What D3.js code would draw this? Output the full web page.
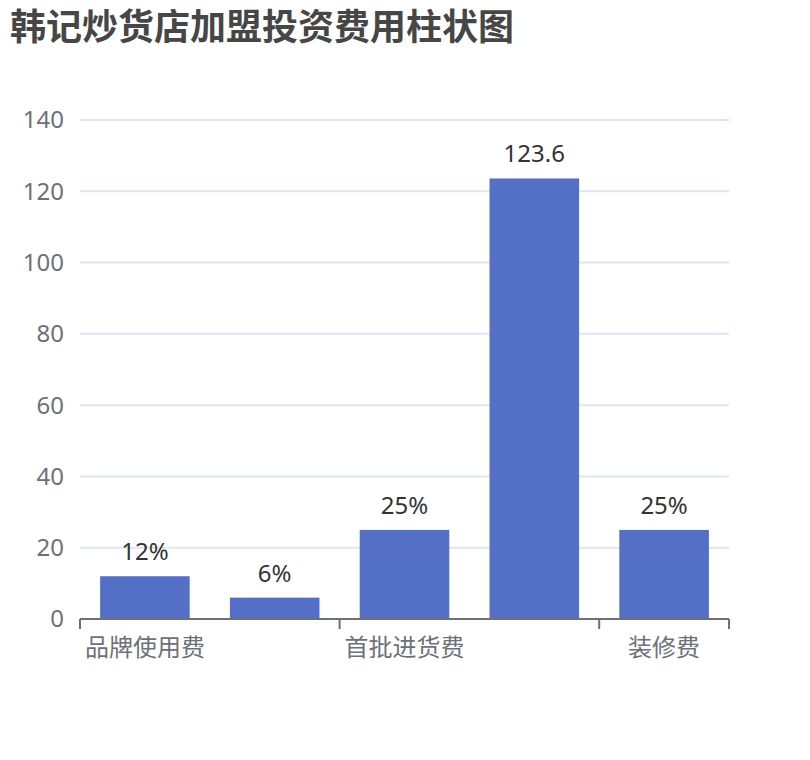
<!DOCTYPE html>
<html><head><meta charset="utf-8">
<script src="https://cdn.jsdelivr.net/npm/d3@7"></script>
<style>body{margin:0;background:#fff}svg{display:block;font-family:"Noto Sans","Noto Sans CJK SC",sans-serif}</style>
</head><body>
<script>
const title = "韩记炒货店加盟投资费用柱状图";
const categories = ["品牌使用费", "加盟保证金", "首批进货费", "店面租金", "装修费"];
const values = [12, 6, 25, 123.6, 25];
const valueLabels = ["12%", "6%", "25%", "123.6", "25%"];
const yTicks = [0, 20, 40, 60, 80, 100, 120, 140];
const labelInterval = 2;

const W = 810, H = 760;
const m = {left: 80, right: 81, top: 120, bottom: 141};
const svg = d3.select("body").append("svg").attr("width", W).attr("height", H);

svg.append("text").attr("x", 10).attr("y", 40)
  .attr("font-size", 36).attr("font-weight", "bold").attr("fill", "#464646")
  .attr("font-family", "'Noto Sans CJK SC', sans-serif")
  .text(title);

const x = d3.scaleBand().domain(categories).range([m.left, W - m.right]).paddingInner(0).paddingOuter(0);
const y = d3.scaleLinear().domain([0, 140]).range([H - m.bottom, m.top]);

// grid
svg.append("g").selectAll("line").data(yTicks.filter(d => d > 0)).join("line")
  .attr("x1", m.left).attr("x2", W - m.right)
  .attr("y1", d => y(d)).attr("y2", d => y(d))
  .attr("stroke", "#E0E6F1").attr("stroke-width", 2);

// y labels
svg.append("g").selectAll("text").data(yTicks).join("text")
  .attr("x", m.left - 16).attr("y", d => y(d)).attr("dy", "0.35em")
  .attr("text-anchor", "end").attr("font-size", 24).attr("fill", "#6E7079")
  .text(d => d);

// bars
const bw = x.bandwidth() * 0.69;
svg.append("g").selectAll("rect").data(values).join("rect")
  .attr("x", (d, i) => x(categories[i]) + (x.bandwidth() - bw) / 2)
  .attr("width", bw)
  .attr("y", d => y(d)).attr("height", d => y(0) - y(d))
  .attr("fill", "#5470C6");

// value labels
svg.append("g").selectAll("text").data(values).join("text")
  .attr("x", (d, i) => x(categories[i]) + x.bandwidth() / 2)
  .attr("y", d => y(d) - 16)
  .attr("text-anchor", "middle").attr("font-size", 24).attr("fill", "#333")
  .text((d, i) => valueLabels[i]);

// x axis
const y0 = y(0);
svg.append("line").attr("x1", m.left).attr("x2", W - m.right).attr("y1", y0).attr("y2", y0)
  .attr("stroke", "#6E7079").attr("stroke-width", 2);
const tickPos = categories.filter((c, i) => i % labelInterval === 0).map(c => x(c));
tickPos.push(W - m.right);
svg.append("g").selectAll("line").data(tickPos).join("line")
  .attr("x1", d => d).attr("x2", d => d).attr("y1", y0).attr("y2", y0 + 10)
  .attr("stroke", "#6E7079").attr("stroke-width", 2);
svg.append("g").selectAll("text").data(categories.filter((c, i) => i % labelInterval === 0)).join("text")
  .attr("x", d => x(d) + x.bandwidth() / 2).attr("y", y0 + 37)
  .attr("text-anchor", "middle").attr("font-size", 24).attr("fill", "#6E7079")
  .attr("font-family", "'Noto Sans CJK SC', sans-serif")
  .text(d => d);
</script>
</body></html>
